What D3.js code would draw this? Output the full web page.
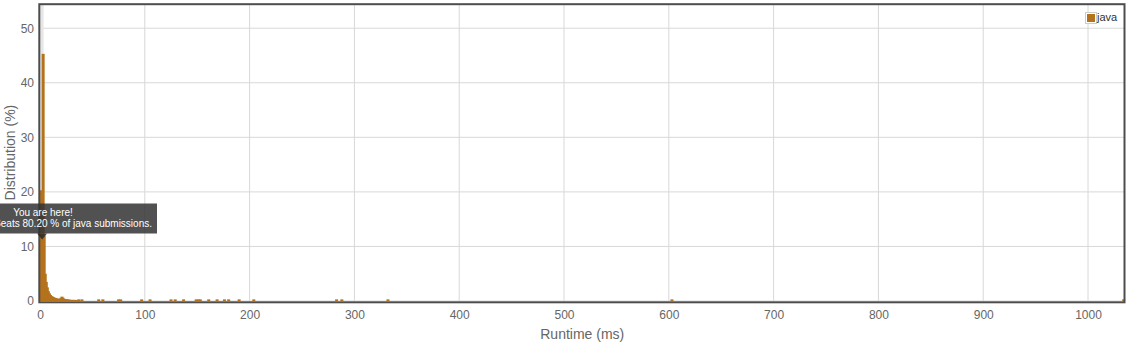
<!DOCTYPE html>
<html>
<head>
<meta charset="utf-8">
<script src="https://cdn.jsdelivr.net/npm/d3@7"></script>
<style>
  body { margin: 0; background: #fff; }
  svg { font-family: Arial, "Liberation Sans", sans-serif; display: block; }
</style>
</head>
<body>
<svg id="chart"></svg>
<script>

// runtime bins (ms) and share of submissions (%)
var runtimes = [1, 2, 3, 4, 5, 6, 7, 8, 9, 10, 11, 12, 13, 14, 15, 16, 17, 18, 19, 20,
                21, 22, 23, 24, 25, 26, 27, 28, 29, 30, 31, 32, 33, 35, 37, 40, 56, 60, 75, 77,
                97, 105, 125, 129, 137, 149, 151, 153, 161, 169, 176, 180, 190, 204, 283, 288,
                332, 603, 1034]
var percents = [20.3, 11.8, 45.3, 12.0, 5.0, 3.5, 2.5, 1.8, 1.4, 1.1, 0.9, 0.8, 0.7, 0.6, 0.5, 0.5, 0.4, 0.4, 0.4, 0.6,
                0.8, 0.6, 0.4, 0.35, 0.3, 0.3, 0.25, 0.25, 0.2, 0.2, 0.2, 0.2, 0.2, 0.2, 0.3, 0.3, 0.3, 0.3, 0.3, 0.3,
                0.3, 0.3, 0.3, 0.3, 0.3, 0.3, 0.3, 0.3, 0.3, 0.3, 0.3, 0.3, 0.3, 0.3, 0.3, 0.3,
                0.3, 0.3, 0.3]

var xTicks = [0, 100, 200, 300, 400, 500, 600, 700, 800, 900, 1000]
var yTicks = [0, 10, 20, 30, 40, 50]

var youAreHere = 2
var tipLines = ["You are here!", "Beats 80.20 % of java submissions."]
var seriesName = "java"

var chartW = 1129, chartH = 346
var plotLeft = 40, plotRight = 1124.5, plotTop = 4.2, plotBottom = 301
var barColor = "#b5721c"

var svg = d3.select("#chart")
    .attr("width", chartW)
    .attr("height", chartH)

var xScale = d3.scaleLinear()
    .domain([0, 1034.8])
    .range([plotLeft, plotRight])

var yScale = d3.scaleLinear()
    .domain([0, 54.4])
    .range([plotBottom, plotTop])

// grid
svg.append("g")
    .selectAll("line")
    .data(xTicks)
    .join("line")
    .attr("x1", d => xScale(d)).attr("x2", d => xScale(d))
    .attr("y1", plotTop).attr("y2", plotBottom)
    .attr("stroke", "#d8d8d8")
    .attr("stroke-width", 1)

svg.append("g")
    .selectAll("line")
    .data(yTicks)
    .join("line")
    .attr("x1", plotLeft).attr("x2", plotRight)
    .attr("y1", d => yScale(d)).attr("y2", d => yScale(d))
    .attr("stroke", "#d8d8d8")
    .attr("stroke-width", 1)

// hover band of the highlighted bin
svg.append("rect")
    .attr("x", xScale(youAreHere) - 1.5)
    .attr("y", plotTop)
    .attr("width", 3)
    .attr("height", plotBottom - plotTop)
    .attr("fill", "#e6e6e6")

// bars
var bars = runtimes.map((r, i) => [r, percents[i]])
svg.append("g")
    .selectAll("rect")
    .data(bars)
    .join("rect")
    .attr("x", d => xScale(d[0]) - 1.5)
    .attr("y", d => yScale(d[1]))
    .attr("width", 3)
    .attr("height", d => plotBottom - yScale(d[1]))
    .attr("fill", barColor)

// frame
svg.append("rect")
    .attr("x", plotLeft - 0.7)
    .attr("y", plotTop)
    .attr("width", plotRight - plotLeft + 0.7)
    .attr("height", plotBottom + 1.3 - plotTop)
    .attr("fill", "none")
    .attr("stroke", "#4d4d4d")
    .attr("stroke-width", 2)

// axes
var x_axis = d3.axisBottom(xScale).tickValues(xTicks).tickSize(0).tickPadding(9).tickFormat(d3.format("d"))
var y_axis = d3.axisLeft(yScale).tickValues(yTicks).tickSize(0).tickPadding(5).tickFormat(d3.format("d"))

var gx = svg.append("g")
    .attr("transform", "translate(0," + plotBottom + ")")
    .call(x_axis)
var gy = svg.append("g")
    .attr("transform", "translate(" + (plotLeft - 1) + ",0)")
    .call(y_axis)

gx.select(".domain").remove()
gy.select(".domain").remove()
svg.selectAll(".tick text")
    .attr("fill", "#666")
    .attr("font-size", 12)
    .attr("font-family", "Arial, 'Liberation Sans', sans-serif")

// axis titles
svg.append("text")
    .attr("x", (plotLeft + plotRight) / 2)
    .attr("y", 339)
    .attr("text-anchor", "middle")
    .attr("font-size", 14)
    .attr("fill", "#666")
    .text("Runtime (ms)")

svg.append("text")
    .attr("transform", "translate(15," + ((plotTop + plotBottom) / 2) + ") rotate(-90)")
    .attr("text-anchor", "middle")
    .attr("font-size", 14)
    .attr("fill", "#666")
    .text("Distribution (%)")

// legend
svg.append("rect")
    .attr("x", 1085.5).attr("y", 12.5)
    .attr("width", 11).attr("height", 11)
    .attr("fill", "#fff")
    .attr("stroke", "#ccc")
svg.append("rect")
    .attr("x", 1087).attr("y", 14)
    .attr("width", 8).attr("height", 8)
    .attr("fill", barColor)
svg.append("text")
    .attr("x", 1097).attr("y", 21)
    .attr("font-size", 11)
    .attr("fill", "#333")
    .text(seriesName)

// tooltip
var hereIdx = runtimes.indexOf(youAreHere)
var px = xScale(youAreHere), py = yScale(percents[hereIdx])
var tip = svg.append("g")
tip.append("path")
    .attr("d", "M" + (px - 5) + "," + (py - 3) + "L" + px + "," + (py + 3) + "L" + (px + 5) + "," + (py - 3) + "Z")
    .attr("fill", "rgba(40,40,40,0.85)")
tip.append("rect")
    .attr("x", -80).attr("y", 203.5)
    .attr("width", 237).attr("height", 30)
    .attr("fill", "rgba(50,50,50,0.85)")
tip.append("text")
    .attr("x", 43).attr("y", 216)
    .attr("text-anchor", "middle")
    .attr("font-size", 10)
    .attr("fill", "#fff")
    .text(tipLines[0])
tip.append("text")
    .attr("x", 152).attr("y", 227)
    .attr("text-anchor", "end")
    .attr("font-size", 10)
    .attr("fill", "#fff")
    .text(tipLines[1])

</script>
</body>
</html>
